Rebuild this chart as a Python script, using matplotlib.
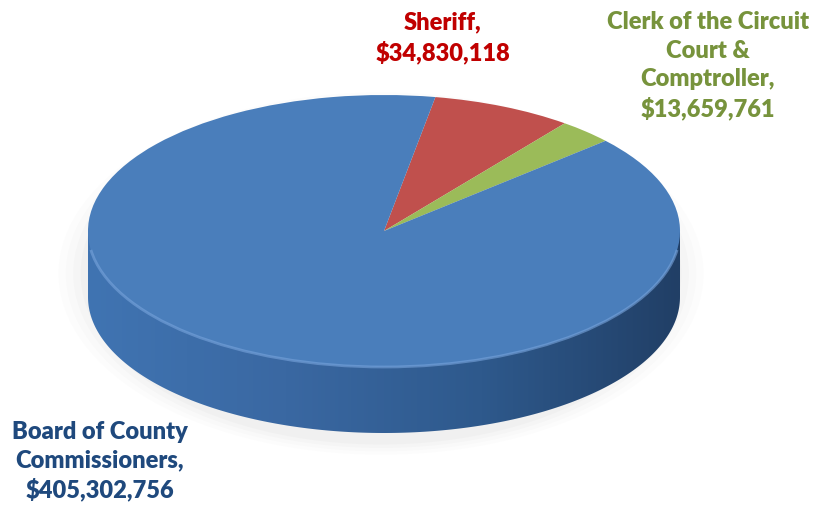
import numpy as np
import matplotlib.pyplot as plt
from matplotlib.patches import Ellipse, Polygon, Arc
from matplotlib.colors import LinearSegmentedColormap

# data
labels = ['Sheriff', 'Clerk of the Circuit\nCourt &\nComptroller', 'Board of County\nCommissioners']
values = [34830118, 13659761, 405302756]
colors = ['#C0504D', '#9BBB59', '#4A7EBB']
text_colors = ['#C00000', '#77933C', '#1F497D']

plt.rcParams['font.family'] = ['Lato', 'DejaVu Sans']

fig = plt.figure(figsize=(8.15, 5.05), dpi=100)
ax = fig.add_axes([0, 0, 1, 1])
ax.axis('off')

# pixel -> unit mapping: x = (px-384)/296, y = (231-py)/136
cx, cy, rx, ry = 384, 231, 296, 136
def px(x, y):
    return (x - cx) / rx, (cy - y) / ry

depth = 66 / ry

# soft shadow
for k, a in enumerate([0.02, 0.025, 0.03, 0.035]):
    s = 1.09 - k * 0.025
    ax.add_patch(Ellipse((-0.01, -depth / 2 - 0.07), 2 * s, 2 * s + depth, color='#808080',
                         alpha=a, lw=0, zorder=0))

# side of the cylinder
t = np.linspace(np.pi, 2 * np.pi, 200)
side = np.vstack([[[-1, 0]], np.c_[np.cos(t), np.sin(t) - depth], [[1, 0]]])
side_patch = Polygon(side, closed=True, fc='none', ec='none', zorder=1)
ax.add_patch(side_patch)
g = np.tile(np.linspace(0, 1, 256), (20, 1))
cm = LinearSegmentedColormap.from_list('side', ['#4074B2', '#3A68A2', '#2E598C', '#213F66'])
im = ax.imshow(g, extent=[-1, 1, -1 - depth, 0.1], cmap=cm, aspect='auto', zorder=1,
               interpolation='bilinear')
im.set_clip_path(side_patch)

# top face
wedges, _ = ax.pie(values, colors=colors, startangle=80, counterclock=False,
                   radius=1, center=(0, 0), wedgeprops=dict(lw=0))
for w in wedges:
    w.set_zorder(2)
ax.add_patch(Arc((0, 0), 2, 2, theta1=188, theta2=352, color='#78A4DC', lw=2, alpha=0.6, zorder=3))

ax.set_aspect('auto')
x0, y0 = px(0, 0)
x1, y1 = px(815, 505)
ax.set_xlim(x0, x1)
ax.set_ylim(y1, y0)

# labels
pos = [(443, 38), (708, 66), (100, 461)]
for lab, v, c, (lx, ly) in zip(labels, values, text_colors, pos):
    x, y = px(lx, ly)
    ax.text(x, y, f'{lab},\n${v:,}', ha='center', va='center', color=c, fontsize=17,
            fontweight='heavy', linespacing=1.35, zorder=5)

fig.savefig('out.png', dpi=100)
